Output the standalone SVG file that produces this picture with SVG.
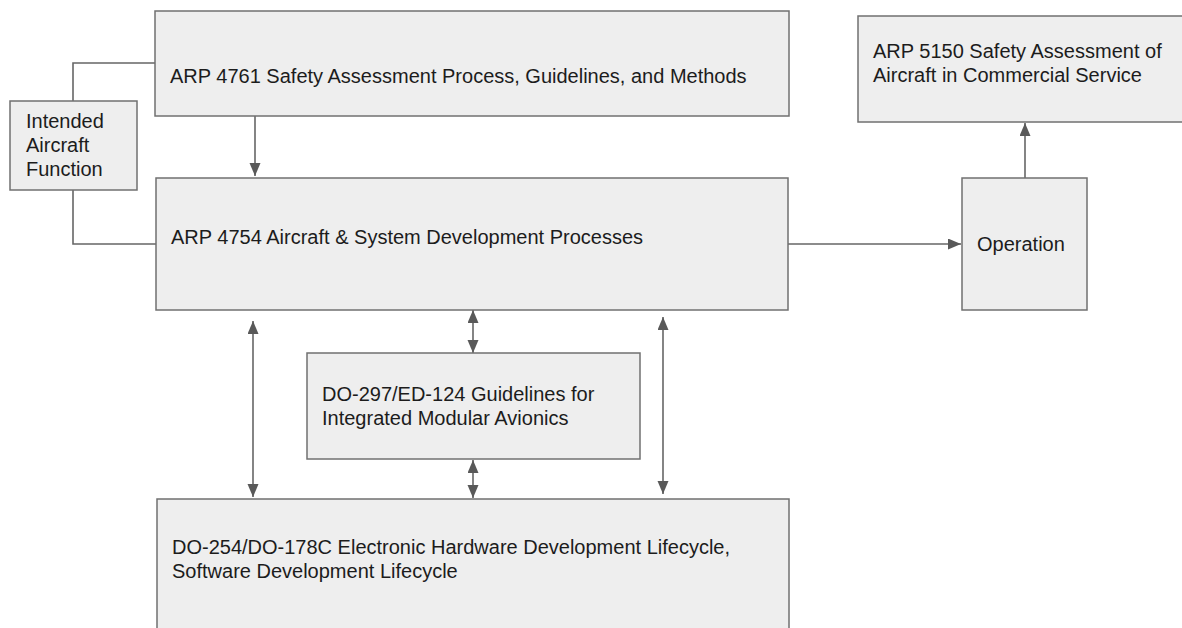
<svg xmlns="http://www.w3.org/2000/svg" width="1182" height="628" viewBox="0 0 1182 628">
  <style>
    .box { fill: #eeeeee; stroke: #707070; stroke-width: 1.5; }
    .lbl { font-family: "Liberation Sans", Arial, sans-serif; font-size: 20px; fill: #1c1c1c; }
    .wire { fill: none; stroke: #666666; stroke-width: 1.6; }
    .arrow { marker-end: url(#head); }
    .both { marker-start: url(#head); marker-end: url(#head); }
  </style>
  <defs>
    <marker id="head" markerUnits="userSpaceOnUse" markerWidth="14" markerHeight="12" refX="13" refY="5.5" orient="auto-start-reverse" viewBox="0 0 14 12">
      <path d="M0,0 L13,5.5 L0,11 z" fill="#595959"/>
    </marker>
  </defs>
  <rect width="1182" height="628" fill="#ffffff"/>

  <g id="connectors">
    <!-- Intended Aircraft Function feeds both process boxes -->
    <polyline class="wire" points="73,101 73,63 155,63"/>
    <polyline class="wire" points="73,190 73,244 156,244"/>
    <!-- ARP 4761 to ARP 4754 -->
    <line class="wire arrow" x1="255" y1="116" x2="255" y2="176"/>
    <!-- ARP 4754 to Operation -->
    <line class="wire arrow" x1="788" y1="244" x2="961" y2="244"/>
    <!-- Operation to ARP 5150 -->
    <line class="wire arrow" x1="1025" y1="178" x2="1025" y2="123"/>
    <!-- two-way links between development levels -->
    <line class="wire both" x1="253" y1="321" x2="253" y2="497"/>
    <line class="wire both" x1="473" y1="310" x2="473" y2="353"/>
    <line class="wire both" x1="473" y1="460" x2="473" y2="498"/>
    <line class="wire both" x1="663" y1="317" x2="663" y2="494"/>
  </g>

  <g id="arp4761">
    <rect class="box" x="155" y="11" width="634" height="105"/>
    <text class="lbl" x="170" y="83">ARP 4761 Safety Assessment Process, Guidelines, and Methods</text>
  </g>

  <g id="intended-function">
    <rect class="box" x="10" y="101" width="127" height="89"/>
    <text class="lbl" x="26" y="128">Intended</text>
    <text class="lbl" x="26" y="152">Aircraft</text>
    <text class="lbl" x="26" y="176">Function</text>
  </g>

  <g id="arp4754">
    <rect class="box" x="156" y="178" width="632" height="132"/>
    <text class="lbl" x="171" y="244">ARP 4754 Aircraft &amp; System Development Processes</text>
  </g>

  <g id="arp5150">
    <rect class="box" x="858" y="16" width="326" height="106"/>
    <text class="lbl" x="873" y="58">ARP 5150 Safety Assessment of</text>
    <text class="lbl" x="873" y="82">Aircraft in Commercial Service</text>
  </g>

  <g id="operation">
    <rect class="box" x="962" y="178" width="125" height="132"/>
    <text class="lbl" x="977" y="251">Operation</text>
  </g>

  <g id="do297">
    <rect class="box" x="307" y="353" width="333" height="106"/>
    <text class="lbl" x="322" y="401">DO-297/ED-124 Guidelines for</text>
    <text class="lbl" x="322" y="425">Integrated Modular Avionics</text>
  </g>

  <g id="do254-do178c">
    <rect class="box" x="157" y="499" width="632" height="140"/>
    <text class="lbl" x="172" y="554">DO-254/DO-178C Electronic Hardware Development Lifecycle,</text>
    <text class="lbl" x="172" y="578">Software Development Lifecycle</text>
  </g>
</svg>
